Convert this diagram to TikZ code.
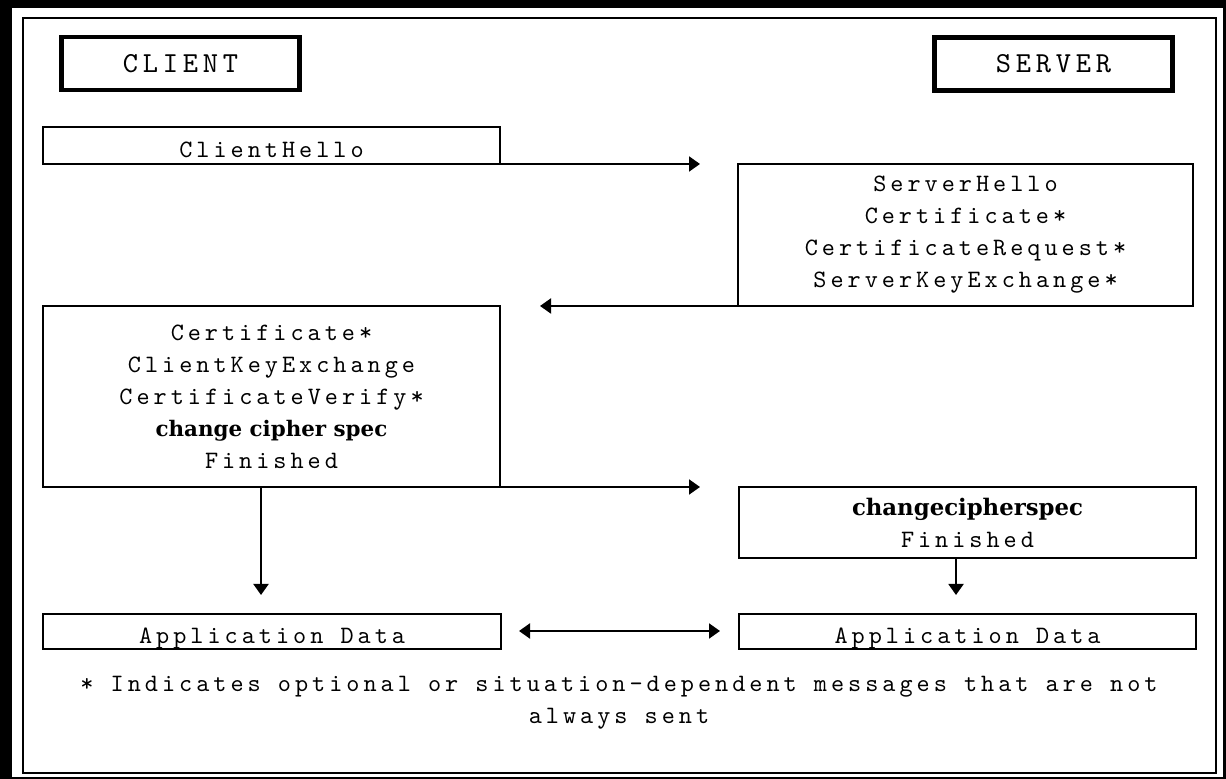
\documentclass[tikz,border=0pt]{standalone}
\usepackage{fontspec}
\usetikzlibrary{arrows.meta}
\newfontfamily\boldserif{DejaVu Serif}
\newfontfamily\lmttA{lmmono10-regular.otf}[LetterSpace=16]
\newfontfamily\lmttB{lmmono10-regular.otf}[LetterSpace=16.5]
\newcommand\monotext{\lmttA\fontsize{12.5}{16}\selectfont}
\newcommand\headtext{\lmttB\fontsize{14.5}{16}\selectfont}
\newcommand\lowline[1]{\raisebox{-6.25pt}[0pt][0pt]{#1}}
\begin{document}
\begin{tikzpicture}[x=0.5pt,y=-0.5pt,
  box/.style={draw, line width=1pt, inner sep=0pt, outer sep=0pt, align=center, font=\monotext},
  hdr/.style={draw, line width=2.25pt, inner sep=0pt, outer sep=0pt, font=\headtext,
    minimum width=119pt, minimum height=26.5pt},
  arr/.style={line width=1pt, -{Triangle[length=5.5pt,width=7.5pt]}},
  darr/.style={line width=1pt, {Triangle[length=5.5pt,width=7.5pt]}-{Triangle[length=5.5pt,width=7.5pt]}},
  note/.style={align=center, font=\monotext, inner sep=0pt}]
  % background and frame
  \fill[black] (0,0) rectangle (1226,779);
  \fill[white] (12,8) rectangle (1223,777);
  \draw[line width=1pt] (23,18) rectangle (1216,773);
  % headers
  \node[hdr] (client) at (180.5,63.5) {CLIENT};
  \node[hdr] (server) at (1053.5,64) {SERVER};
  % message boxes
  \node[box, minimum width=228.5pt, minimum height=18.5pt] (ch) at (271.5,145.5)
    {\lowline{ClientHello}};
  \node[box, minimum width=227.5pt, minimum height=71pt] (sh) at (965.5,235)
    {ServerHello\\Certificate*\\CertificateRequest*\\ServerKeyExchange*};
  \node[box, minimum width=228.5pt, minimum height=90.5pt] (cert) at (271.5,396.5)
    {Certificate*\\ClientKeyExchange\\CertificateVerify*\\
     {\boldserif\bfseries\fontsize{10.7}{16}\selectfont change cipher spec}\\Finished};
  \node[box, minimum width=228.5pt, minimum height=35.5pt] (chg) at (967.5,522.5)
    {{\boldserif\bfseries\fontsize{11.4}{16}\selectfont changecipherspec}\\Finished};
  \node[box, minimum width=229pt, minimum height=17.5pt] (appL) at (272,631.5)
    {\lowline{Application Data}};
  \node[box, minimum width=228.5pt, minimum height=17.5pt] (appR) at (967.5,631.5)
    {\lowline{Application Data}};
  \node[note] (foot) at (619,703)
    {* Indicates optional or situation-dependent messages that are not\\always sent};
  % connectors
  \coordinate (t1) at (700,164);
  \draw[arr] (ch.south east) -- (t1);
  \coordinate (t2) at (540,306);
  \draw[arr] (sh.south west) -- (t2);
  \coordinate (t3) at (700,487);
  \draw[arr] (cert.south east) -- (t3);
  \coordinate (t4) at (261,595);
  \draw[arr] (t4 |- cert.south) -- (t4);
  \coordinate (t5) at (956,595);
  \draw[arr] (t5 |- chg.south) -- (t5);
  \coordinate (d1) at (519,631);
  \coordinate (d2) at (720,631);
  \draw[darr] (d1) -- (d2);
\end{tikzpicture}
\end{document}
